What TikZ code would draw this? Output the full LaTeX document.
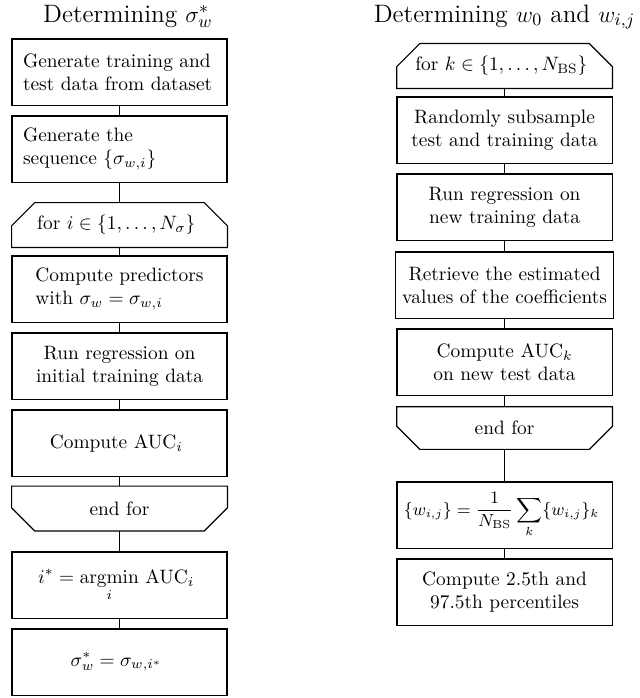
\documentclass[tikz,border=0pt]{standalone}
\usepackage{amsmath}
\usetikzlibrary{positioning,calc}

\begin{document}
\begin{tikzpicture}[every node/.style={font=\normalsize},
    stepbox/.style={draw, semithick, minimum width=3.9cm, minimum height=1.2cm, align=center},
    loopbox/.style={minimum width=3.9cm, minimum height=0.8cm, align=center},
    heading/.style={font=\fontsize{13}{15}\selectfont, anchor=base},
    link/.style={semithick}]

    \useasboundingbox (0,0) rectangle (11.59,-12.66);

    % ---- Column 1: sigma_w ----
    \node[heading] (t_sigma) at (2.32, -0.40) {Determining $\sigma_w^*$};

    \node[stepbox, text width=3.5cm, align=left] (gen_data) at (2.168, -1.306) {
      Generate training and\\ test data from dataset
    };
    \node[stepbox, text width=3.5cm, align=left] (gen_seq) at (2.168, -2.703) {
      Generate the\\ sequence $\{\sigma_{w,i}\}$
    };
    \node[loopbox] (for_i) at (2.168, -4.082) {
      for $i\in\{1,\ldots,N_\sigma\}$
    };
    \node[stepbox, align=left] (pred) at (2.168, -5.243) {
      Compute predictors\\ with $\sigma_w=\sigma_{w,i}$
    };
    \node[stepbox] (reg_init) at (2.168, -6.640) {
      Run regression on\\ initial training data
    };
    \node[stepbox] (auc_i) at (2.168, -8.036) {
      Compute AUC$_i$
    };
    \node[loopbox] (end_i) at (2.168, -9.224) {end for};
    \node[stepbox] (argmin) at (2.168, -10.612) {
      $\displaystyle i^*=\operatorname*{argmin}_i\,\mathrm{AUC}_i$
    };
    \node[stepbox] (sigma_opt) at (2.168, -12.009) {
      $\sigma_w^*=\sigma_{w,i^*}$
    };

    % ---- Column 2: w_0 and w_ij ----
    \node[heading] (t_coef) at (9.15, -0.40) {Determining $w_0$ and $w_{i,j}$};

    \node[loopbox] (for_k) at (9.152, -1.197) {
      for $k\in\{1,\ldots,N_{\mathrm{BS}}\}$
    };
    \node[stepbox] (subsample) at (9.152, -2.358) {
      Randomly subsample\\ test and training data
    };
    \node[stepbox] (reg_new) at (9.152, -3.755) {
      Run regression on\\ new training data
    };
    \node[stepbox] (retrieve) at (9.152, -5.170) {
      Retrieve the estimated\\ values of the coefficients
    };
    \node[stepbox] (auc_k) at (9.152, -6.567) {
      Compute AUC$_k$\\ on new test data
    };
    \node[loopbox, minimum height=0.76cm] (end_k) at (9.152, -7.764) {end for};
    \node[stepbox, font=\small] (mean_w) at (9.152, -9.342) {
      $\displaystyle\{w_{i,j}\}=\frac{1}{N_{\mathrm{BS}}}\sum_k\{w_{i,j}\}_k$
    };
    \node[stepbox] (pctl) at (9.152, -10.739) {
      Compute 2.5th and\\ 97.5th percentiles
    };

    % ---- Loop outlines (chamfered corners) ----
    \foreach \n in {for_i, for_k} {
      \draw[link] (\n.south west) -- (\n.south east)
        -- ([yshift=-0.42cm]\n.north east) -- ([xshift=-0.42cm]\n.north east)
        -- ([xshift=0.42cm]\n.north west) -- ([yshift=-0.42cm]\n.north west) -- cycle;
    }
    \foreach \n in {end_i, end_k} {
      \draw[link] (\n.north west) -- (\n.north east)
        -- ([yshift=0.42cm]\n.south east) -- ([xshift=-0.42cm]\n.south east)
        -- ([xshift=0.42cm]\n.south west) -- ([yshift=0.42cm]\n.south west) -- cycle;
    }

    % ---- Connectors ----
    \draw[link] (gen_data.south) -- (gen_seq.north);
    \draw[link] (gen_seq.south)  -- (for_i.north);
    \draw[link] (for_i.south)    -- (pred.north);
    \draw[link] (pred.south)     -- (reg_init.north);
    \draw[link] (reg_init.south) -- (auc_i.north);
    \draw[link] (auc_i.south)    -- (end_i.north);
    \draw[link] (end_i.south)    -- (argmin.north);
    \draw[link] (argmin.south)   -- (sigma_opt.north);

    \draw[link] (for_k.south)     -- (subsample.north);
    \draw[link] (subsample.south) -- (reg_new.north);
    \draw[link] (reg_new.south)   -- (retrieve.north);
    \draw[link] (retrieve.south)  -- (auc_k.north);
    \draw[link] (auc_k.south)     -- (end_k.north);
    \draw[link] (end_k.south)     -- (mean_w.north);
    \draw[link] (mean_w.south)    -- (pctl.north);

  \end{tikzpicture}
\end{document}
